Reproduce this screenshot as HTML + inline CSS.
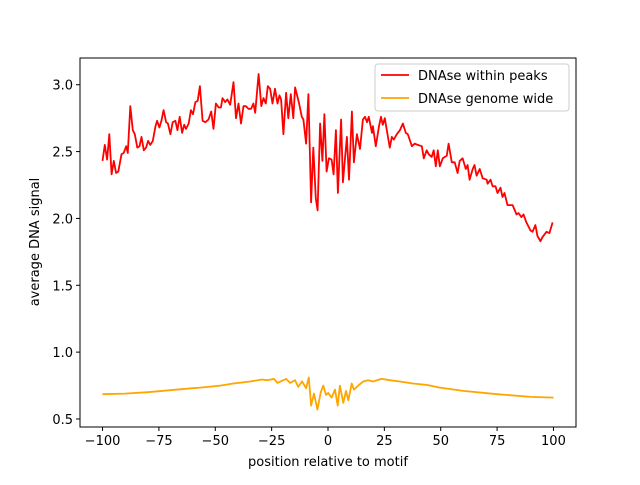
<!DOCTYPE html>
<html><head><meta charset="utf-8"><style>
body{margin:0;background:#fff}
svg text{font-family:"DejaVu Sans","Liberation Sans",sans-serif;fill:#000}
</style></head><body>
<svg id="chart" width="640" height="480" xmlns="http://www.w3.org/2000/svg">
<rect width="640" height="480" fill="#fff"/>
<g id="plot"></g>
<rect x="80" y="58" width="496" height="369" fill="none" stroke="#000" stroke-width="1"/>
<g id="ticks"></g>
<text x="328" y="466" font-size="13" text-anchor="middle">position relative to motif</text>
<text transform="translate(39,242) rotate(-90)" font-size="13" text-anchor="middle">average DNA signal</text>
<g>
<rect x="375" y="64" width="194" height="47" rx="3" fill="#fff" fill-opacity="0.8" stroke="#ccc"/>
<g>
<line x1="381" y1="75" x2="409" y2="75" stroke="red" stroke-width="1.8"/>
<text x="418" y="80" font-size="13">DNAse within peaks</text></g>
<g>
<line x1="381" y1="98" x2="409" y2="98" stroke="orange" stroke-width="1.8"/>
<text x="418" y="103" font-size="13">DNAse genome wide</text></g>
</g>
</svg>
<script>
const redPos=[-100,-99,-98,-97,-96,-95,-94,-93,-91.6,-90.6,-89.5,-88.8,-87.7,-86.6,-85.7,-84.6,-83.6,-82.7,-81.7,-80.7,-79.8,-78.8,-77.7,-76.5,-75.8,-74.8,-73.9,-72.9,-71.8,-71,-69.9,-68.9,-67.7,-66.8,-65.8,-64.7,-63.8,-63,-61.8,-60.8,-59.9,-58.8,-57.8,-56.8,-55.6,-54.4,-53,-51.8,-50.8,-49.7,-48.5,-47.5,-46.8,-45.6,-44.6,-43.4,-41.9,-40.8,-39.7,-38.6,-37.5,-36.4,-35.3,-34.1,-33.1,-32.3,-30.8,-29.6,-28.6,-27.6,-26.7,-25.7,-24.6,-23.5,-22.4,-21.5,-20.8,-19.8,-18.6,-17.6,-16.5,-15.4,-14.6,-12.8,-11.6,-10.9,-9.7,-8.7,-7.5,-6.5,-5.4,-4.6,-3.5,-2.5,-1.6,-0.6,0.4,1.6,2.5,3.5,4.4,5.8,6.6,8.4,9.3,10.6,11.5,12.8,14.2,15.5,16.4,17.3,18.1,19.5,19.9,21.2,22.6,23.5,24.3,25.2,26.1,27.4,28.3,29.2,30.5,31.9,33.2,34.5,35.4,37.2,38.5,39.8,41.6,42.5,43.8,44.7,46,46.9,47.8,48.7,49.6,50.9,52.7,53.5,54.9,56.2,57.5,58.4,59.7,61.1,61.9,62.8,64.2,65,65.9,67.3,68.6,70.4,70.8,72.1,73,74.3,75.2,76.5,77.4,78.3,79.6,81.9,83.6,84.5,85.8,86.7,88,89.8,90.7,92,92.9,94.2,95.1,96.9,98.2,99.6];
const redVals=[2.43,2.55,2.44,2.63,2.33,2.43,2.34,2.35,2.48,2.49,2.54,2.49,2.84,2.66,2.63,2.53,2.54,2.61,2.51,2.53,2.58,2.55,2.58,2.69,2.73,2.68,2.73,2.81,2.72,2.71,2.63,2.72,2.73,2.66,2.76,2.64,2.70,2.67,2.71,2.81,2.78,2.87,2.88,2.99,2.73,2.72,2.74,2.80,2.67,2.86,2.83,2.83,2.90,2.87,2.89,2.85,3.02,2.75,2.86,2.71,2.84,2.84,2.82,2.82,2.86,2.79,3.08,2.84,2.90,2.86,2.99,2.97,2.86,2.97,2.86,2.92,2.89,2.63,2.94,2.75,2.93,2.75,2.98,2.86,2.76,2.74,2.56,2.93,2.12,2.53,2.15,2.06,2.71,2.43,2.78,2.35,2.45,2.44,2.33,2.66,2.19,2.74,2.27,2.61,2.29,2.80,2.42,2.63,2.52,2.74,2.76,2.72,2.76,2.64,2.69,2.54,2.69,2.76,2.70,2.75,2.66,2.53,2.61,2.59,2.63,2.66,2.71,2.64,2.63,2.54,2.56,2.55,2.54,2.45,2.51,2.48,2.46,2.51,2.39,2.51,2.39,2.45,2.47,2.56,2.42,2.42,2.34,2.43,2.45,2.37,2.40,2.29,2.37,2.40,2.32,2.37,2.30,2.29,2.26,2.29,2.24,2.24,2.19,2.23,2.16,2.19,2.10,2.10,2.03,2.04,2.01,2.03,1.97,1.91,1.90,1.95,1.87,1.83,1.86,1.90,1.89,1.97];
const orgPos=[-100,-90,-80,-70,-60,-56.6,-47.8,-42,-34.5,-29.2,-27,-23.9,-22.5,-18.6,-16.8,-14.6,-13.2,-11.5,-9.7,-8.5,-7.5,-6.2,-4.7,-3.2,-2.1,-0.9,0.1,1.6,3.1,4.3,5.3,6.8,8,9,10.5,11.5,13.4,15.6,17.8,20,23.7,27.4,31.9,37.6,43.7,49.6,60,75,90,100];
const orgVals=[0.685,0.69,0.70,0.715,0.73,0.735,0.75,0.765,0.78,0.795,0.79,0.80,0.77,0.80,0.77,0.79,0.74,0.78,0.73,0.81,0.60,0.69,0.57,0.70,0.75,0.68,0.695,0.66,0.72,0.60,0.75,0.62,0.71,0.64,0.765,0.72,0.75,0.78,0.79,0.78,0.80,0.79,0.78,0.765,0.755,0.735,0.71,0.685,0.665,0.66];
const xTicks=[-100,-75,-50,-25,0,25,50,75,100];
const yTicks=[0.5,1.0,1.5,2.0,2.5,3.0];
const xMin=-110,xMax=110,yMin=0.44,yMax=3.20;
const L=80,R=576,T=58,B=427;
function sx(v){return L+(v-xMin)/(xMax-xMin)*(R-L);}
function sy(v){return B-(v-yMin)/(yMax-yMin)*(B-T);}
const NS="http://www.w3.org/2000/svg";
const plot=document.getElementById('plot'),ticks=document.getElementById('ticks');
function line(pos,vals,color,name){
  const p=document.createElementNS(NS,'path');
  p.setAttribute('d',pos.map((x,i)=>(i?'L':'M')+sx(x).toFixed(1)+','+sy(vals[i]).toFixed(1)).join(''));
  p.setAttribute('fill','none');p.setAttribute('stroke',color);p.setAttribute('stroke-width','1.8');p.setAttribute('stroke-linejoin','round');
  
  
  plot.appendChild(p);
}
line(redPos,redVals,'red','series-within-peaks');
line(orgPos,orgVals,'orange','series-genome-wide');
xTicks.forEach(t=>{
  const g=document.createElementNS(NS,'g');
  
  
  const x=sx(t);
  g.innerHTML=`<line x1="${x}" y1="${B}" x2="${x}" y2="${B+4}" stroke="#000"/><text x="${x}" y="${B+18}" font-size="13" text-anchor="middle">${t<0?'\u2212'+(-t):t}</text>`;
  ticks.appendChild(g);
});
yTicks.forEach(t=>{
  const g=document.createElementNS(NS,'g');
  
  
  const y=sy(t);
  g.innerHTML=`<line x1="${L-4}" y1="${y}" x2="${L}" y2="${y}" stroke="#000"/><text x="${L-7}" y="${y+5}" font-size="13" text-anchor="end">${t.toFixed(1)}</text>`;
  ticks.appendChild(g);
});
</script>
</body></html>
